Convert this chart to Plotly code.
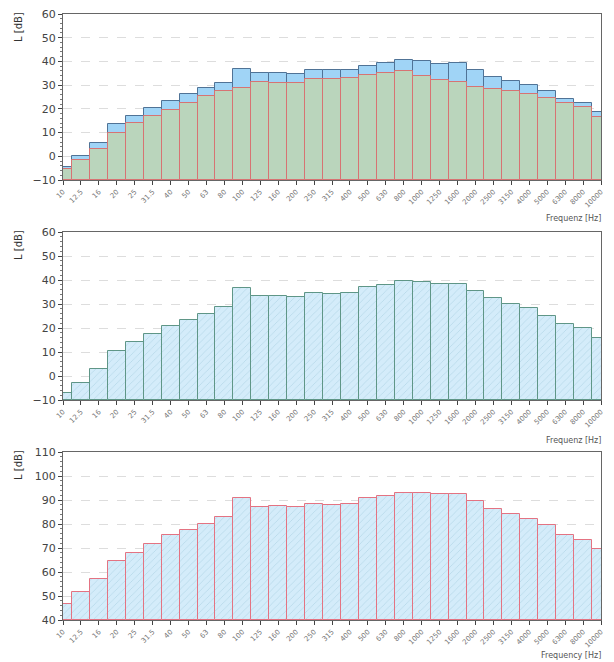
import plotly.graph_objects as go

freqs = ["10", "12.5", "16", "20", "25", "31.5", "40", "50", "63", "80", "100", "125", "160",
         "200", "250", "315", "400", "500", "630", "800", "1000", "1250", "1600", "2000",
         "2500", "3150", "4000", "5000", "6300", "8000", "10000"]

top_blue = [-4.4, 0.3, 5.8, 13.5, 17.0, 20.5, 23.3, 26.3, 28.9, 31.1, 37.0, 35.0, 35.0,
            34.7, 36.5, 36.4, 36.5, 38.2, 39.3, 40.5, 40.3, 38.9, 39.3, 36.4, 33.6, 31.9,
            30.0, 27.6, 24.3, 22.4, 18.5]
top_green = [-5.5, -1.7, 3.0, 10.0, 14.0, 17.0, 19.7, 22.6, 25.4, 27.5, 28.7, 31.3, 31.0,
             30.8, 32.6, 32.6, 33.0, 34.3, 35.1, 35.8, 33.7, 32.2, 31.4, 29.2, 28.3, 27.4,
             26.1, 24.7, 22.5, 20.6, 16.7]
mid_vals = [-7.0, -3.0, 2.8, 10.3, 14.2, 17.7, 21.0, 23.5, 26.0, 28.7, 36.6, 33.3, 33.3,
            32.8, 34.4, 34.1, 34.6, 36.9, 38.0, 39.4, 39.2, 38.4, 38.5, 35.6, 32.4, 30.2,
            28.2, 25.2, 21.7, 19.9, 15.7]
bot_vals = [46.8, 51.5, 57.1, 64.6, 68.0, 71.7, 75.3, 77.7, 80.1, 83.0, 90.8, 87.0, 87.4,
            86.9, 88.3, 88.1, 88.5, 90.8, 91.7, 93.1, 93.1, 92.4, 92.6, 89.5, 86.3, 84.1,
            81.9, 79.4, 75.5, 73.5, 69.6]

x_titles = ["Frequenz [Hz]", "Frequenz [Hz]", "Frequency [Hz]"]
y_title = "L [dB]"
y_ranges = [[-10, 60], [-10, 60], [40, 110]]
y_ticks = [list(range(-10, 61, 10)), list(range(-10, 61, 10)), list(range(40, 111, 10))]

fig = go.Figure()

hatch = dict(shape="/", fgcolor="rgb(150,195,215)", bgcolor="rgb(212,236,250)", size=5, solidity=0.15)

# top chart
fig.add_trace(go.Bar(x=freqs, y=[v + 10 for v in top_blue], base=-10, xaxis="x", yaxis="y",
                     marker=dict(color="rgb(160,212,246)", line=dict(color="rgb(80,115,150)", width=1)),
                     width=1, showlegend=False))
fig.add_trace(go.Bar(x=freqs, y=[v + 10 for v in top_green], base=-10, xaxis="x", yaxis="y",
                     marker=dict(color="rgb(186,213,188)", line=dict(color="rgb(215,115,115)", width=1)),
                     width=1, showlegend=False))
# middle chart
fig.add_trace(go.Bar(x=freqs, y=[v + 10 for v in mid_vals], base=-10, xaxis="x2", yaxis="y2",
                     marker=dict(color="rgb(212,236,250)",
                                 line=dict(color="rgb(95,150,135)", width=1), pattern=hatch),
                     width=1, showlegend=False))
# bottom chart
fig.add_trace(go.Bar(x=freqs, y=[v - 40 for v in bot_vals], base=40, xaxis="x3", yaxis="y3",
                     marker=dict(color="rgb(212,236,250)",
                                 line=dict(color="rgb(228,115,130)", width=1), pattern=hatch),
                     width=1, showlegend=False))

W, H = 598, 654
mt, mb, ml, mr = 6, 42, 55, 5
ph = H - mt - mb

def dom(top_px, bot_px):
    return [1 - (bot_px - mt) / ph, 1 - (top_px - mt) / ph]

domains = [dom(6, 172), dom(224, 392), dom(444, 612)]
title_drop = [38, 40, 35]

layout = dict(
    width=W, height=H,
    margin=dict(l=ml, r=mr, t=mt, b=mb),
    paper_bgcolor="white", plot_bgcolor="white",
    barmode="overlay", bargap=0,
    font=dict(family="DejaVu Sans, Arial", color="#333"),
)
annotations = []
for i in range(3):
    sx = "" if i == 0 else str(i + 1)
    layout["xaxis" + sx] = dict(
        domain=[0, 1], anchor="y" + sx, type="category", range=[0, 30],
        tickangle=-45, tickfont=dict(size=7, color="#777"),
        ticks="outside", ticklen=4, tickcolor="#444",
        showline=True, linecolor="#666", linewidth=1, mirror=True,
        showgrid=False, zeroline=False, automargin=False, ticklabeloverflow="allow",
    )
    layout["yaxis" + sx] = dict(
        domain=domains[i], anchor="x" + sx, range=y_ranges[i], tickvals=y_ticks[i],
        tickfont=dict(size=11, color="#444"),
        ticks="outside", ticklen=4, tickcolor="#444",
        minor=dict(dtick=2, ticks="outside", ticklen=2, tickcolor="#777", showgrid=False),
        showline=True, linecolor="#666", linewidth=1, mirror=True,
        showgrid=True, gridcolor="#dddddd", griddash="dash", zeroline=False,
        automargin=False, ticklabeloverflow="allow",
    )
    annotations.append(dict(
        text=y_title, textangle=-90, xref="paper", yref="paper", x=0, y=domains[i][1],
        xanchor="center", yanchor="top", xshift=-45, yshift=4, showarrow=False,
        font=dict(size=10, color="#333"),
    ))
    annotations.append(dict(
        text=x_titles[i], xref="paper", yref="paper", x=1.0, y=domains[i][0],
        xanchor="right", yanchor="middle", xshift=2, yshift=-title_drop[i], showarrow=False,
        font=dict(size=8, color="#555"),
    ))
layout["annotations"] = annotations
fig.update_layout(**layout)

fig.write_html("out.html")
